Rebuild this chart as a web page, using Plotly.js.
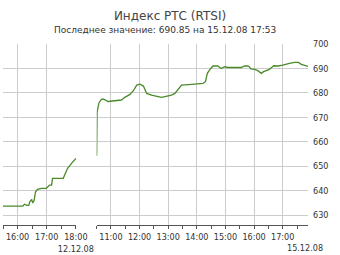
<!DOCTYPE html>
<html>
<head>
<meta charset="utf-8">
<script src="https://cdn.plot.ly/plotly-3.0.1.min.js"></script>
<style>
  html, body { margin: 0; padding: 0; background: #fff; }
  #chart { width: 340px; height: 255px; }
</style>
</head>
<body>
<div id="chart"></div>
<script>
// ---- data ----
var day1Date = "2008-12-12";
var day2Date = "2008-12-15";

var day1Times = ["15:30","16:11","16:14","16:19","16:23","16:25","16:29","16:31","16:34","16:37","16:41","16:49","16:59","17:06","17:10","17:12","17:17","17:34","17:38","17:41","17:43","17:51","17:56","18:00"];
var day1Values = [633.7,633.7,634.5,634.0,634.0,635.5,636.5,635.0,636.0,639.6,640.6,641.0,641.0,642.3,642.3,645.1,645.1,645.1,647.0,648.0,649.2,651.2,652.2,653.2];

var day2Times = ["10:30","10:31","10:35","10:40","10:44","10:54","11:08","11:22","11:29","11:40","11:47","11:54","12:01","12:08","12:15","12:25","12:46","13:07","13:14","13:17","13:24","13:28","13:49","14:13","14:18","14:22","14:29","14:34","14:44","14:51","14:58","15:05","15:33","15:40","15:47","15:50","15:53","16:01","16:08","16:15","16:20","16:28","16:32","16:41","16:50","17:00","17:07","17:14","17:25","17:33","17:39","17:46","17:53"];
var day2Values = [654.3,672.3,676.0,677.4,677.5,676.5,676.8,677.1,678.2,679.4,680.9,683.2,683.6,682.8,679.8,679.1,678.2,679.1,679.8,680.5,682.5,683.2,683.5,683.9,684.6,688.0,690.0,691.0,691.0,690.0,690.7,690.4,690.4,691.0,691.0,690.7,689.8,689.6,689.1,688.0,688.7,689.4,689.6,691.1,691.0,691.4,691.8,692.1,692.5,692.5,691.7,691.4,690.85];

var day1TickTimes = ["16:00","17:00","18:00"];
var day1TickLabels = ["16:00","17:00","18:00<br>12.12.08"];
var day2TickTimes = ["11:00","12:00","13:00","14:00","15:00","16:00","17:00"];
var day2TickLabels = ["11:00","12:00","13:00","14:00","15:00","16:00","17:00"];
var day1Range = ["15:30","18:00"];
var day2Range = ["10:30","17:53"];
var yTicks = [630,640,650,660,670,680,690,700];
var yRange = [626,700];

var titleText = "Индекс РТС (RTSI)";
var subtitleText = "Последнее значение: 690.85 на 15.12.08 17:53";
var lastDateLabel = "15.12.08";

// ---- build ----
function stamp(d, t) { return d + " " + t; }
var x1 = day1Times.map(function (t) { return stamp(day1Date, t); });
var x2 = day2Times.map(function (t) { return stamp(day2Date, t); });

var lineColor = "#4a8a2a";
var gridColor = "#cccccc";
var textColor = "#333333";
var fontFam = "Tahoma, 'DejaVu Sans Condensed', 'DejaVu Sans', sans-serif";

var traces = [
  { x: x1, y: day1Values, xaxis: "x", yaxis: "y", type: "scatter", mode: "lines",
    line: { color: lineColor, width: 1.3 }, showlegend: false },
  { x: x2, y: day2Values, xaxis: "x2", yaxis: "y", type: "scatter", mode: "lines",
    line: { color: lineColor, width: 1.3 }, showlegend: false },
  // empty trace so the horizontal grid also runs through the overnight gap
  { x: [0], y: [null], xaxis: "x3", yaxis: "y", type: "scatter", mode: "lines",
    hoverinfo: "skip", showlegend: false }
];

function dateAxis(date, range, tickTimes, tickLabels, domain) {
  return {
    type: "date",
    domain: domain,
    anchor: "y",
    range: [stamp(date, range[0]), stamp(date, range[1])],
    tickmode: "array",
    tickvals: tickTimes.map(function (t) { return stamp(date, t); }),
    ticktext: tickLabels,
    tickangle: 0,
    ticks: "outside",
    ticklen: 3,
    tickwidth: 1,
    tickcolor: "#555",
    showgrid: true,
    gridcolor: gridColor,
    gridwidth: 1,
    showline: true,
    linecolor: "#555",
    linewidth: 1,
    zeroline: false,
    tickfont: { family: fontFam, size: 9, color: textColor },
    minor: { tickmode: "linear", tick0: stamp(date, range[0]), dtick: 1800000,
             ticks: "outside", ticklen: 3, tickcolor: "#555", showgrid: false },
    fixedrange: true
  };
}

var layout = {
  width: 340, height: 255,
  margin: { l: 3, r: 32, t: 44, b: 30, pad: 0 },
  paper_bgcolor: "#ffffff",
  plot_bgcolor: "#ffffff",
  showlegend: false,
  title: {
    text: titleText,
    font: { family: "'DejaVu Sans', sans-serif", size: 12, color: "#444" },
    x: 0.5, xref: "container", xanchor: "center",
    y: 0.937, yref: "container", yanchor: "middle"
  },
  xaxis: dateAxis(day1Date, day1Range, day1TickTimes, day1TickLabels, [0, 0.239]),
  xaxis2: dateAxis(day2Date, day2Range, day2TickTimes, day2TickLabels, [0.307, 1]),
  xaxis3: { domain: [0.239, 0.307], anchor: "y", range: [-1, 1], visible: false,
            showgrid: false, zeroline: false, fixedrange: true },
  yaxis: {
    side: "right",
    anchor: "x2",
    range: yRange,
    tickmode: "array",
    tickvals: yTicks,
    ticks: "",
    showgrid: true,
    gridcolor: gridColor,
    gridwidth: 1,
    zeroline: false,
    showline: false,
    ticklabelstandoff: 4,
    tickfont: { family: fontFam, size: 9, color: textColor },
    fixedrange: true
  },
  annotations: [
    { text: subtitleText, xref: "paper", yref: "paper", x: 0.53, y: 1,
      xanchor: "center", yanchor: "bottom", yshift: 7, showarrow: false,
      font: { family: "'DejaVu Sans', sans-serif", size: 9, color: "#333" } },
    { text: lastDateLabel, xref: "x2", yref: "paper",
      x: stamp(day2Date, day2Range[1]), y: 0, xanchor: "center", yanchor: "top",
      yshift: -16, xshift: -3, showarrow: false,
      font: { family: fontFam, size: 9, color: textColor } }
  ]
};

Plotly.newPlot("chart", traces, layout, { displayModeBar: false, staticPlot: true });
</script>
</body>
</html>
